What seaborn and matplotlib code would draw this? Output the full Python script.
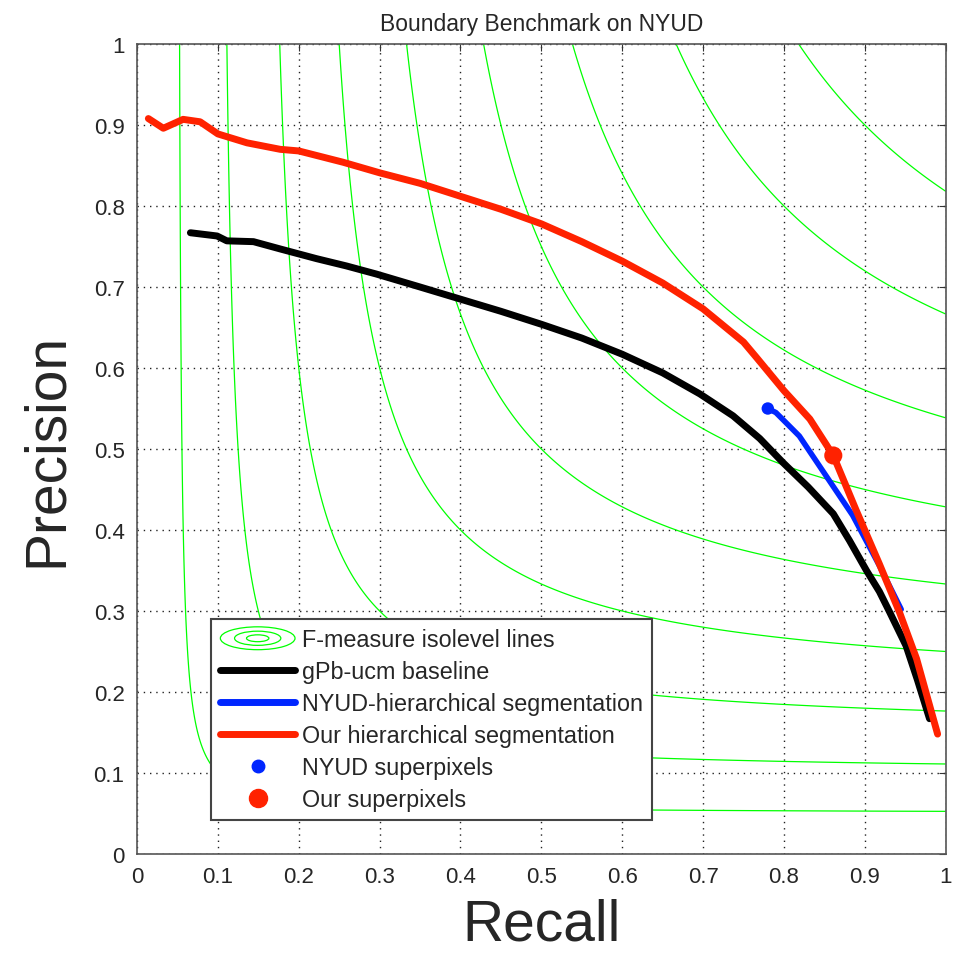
import numpy as np
import pandas as pd
import matplotlib
matplotlib.use("Agg")
import matplotlib.pyplot as plt
import seaborn as sns
from matplotlib.patches import Ellipse
from matplotlib.legend_handler import HandlerBase
from matplotlib.lines import Line2D

# F-measure isolevels
f_levels = [0.1, 0.2, 0.3, 0.4, 0.5, 0.6, 0.7, 0.8, 0.9]

# gPb-ucm baseline (recall, precision)
gpb_recall = [0.066, 0.099, 0.111, 0.144, 0.177, 0.222, 0.259, 0.296, 0.35, 0.40, 0.45,
              0.50, 0.55, 0.60, 0.65, 0.696, 0.737, 0.77, 0.799, 0.83, 0.861, 0.881,
              0.902, 0.918, 0.931, 0.951, 0.965, 0.980]
gpb_precision = [0.767, 0.763, 0.757, 0.756, 0.747, 0.735, 0.726, 0.716, 0.700, 0.685, 0.670,
                 0.654, 0.637, 0.617, 0.594, 0.568, 0.541, 0.513, 0.483, 0.453, 0.420, 0.387,
                 0.350, 0.324, 0.298, 0.257, 0.215, 0.167]

# NYUD hierarchical segmentation
nyud_recall = [0.780, 0.790, 0.819, 0.852, 0.885, 0.918, 0.945]
nyud_precision = [0.550, 0.545, 0.516, 0.467, 0.418, 0.356, 0.302]

# our hierarchical segmentation
our_recall = [0.014, 0.0325, 0.057, 0.078, 0.100, 0.136, 0.177, 0.200, 0.255, 0.300, 0.35,
              0.40, 0.45, 0.50, 0.55, 0.60, 0.65, 0.70, 0.75, 0.766, 0.80, 0.832, 0.861,
              0.889, 0.918, 0.943, 0.964, 0.990]
our_precision = [0.908, 0.896, 0.907, 0.904, 0.889, 0.878, 0.870, 0.868, 0.854, 0.841, 0.828,
                 0.812, 0.796, 0.778, 0.756, 0.732, 0.705, 0.673, 0.632, 0.613, 0.572, 0.537,
                 0.492, 0.425, 0.358, 0.298, 0.241, 0.148]

# superpixel operating points
nyud_sp = (0.780, 0.550)
our_sp = (0.861, 0.492)

sns.set_style("white")
plt.rcParams['font.family'] = ['Liberation Sans', 'DejaVu Sans']

fig = plt.figure(figsize=(9.65, 9.54), dpi=100)
ax = fig.add_axes([0.142, 0.1038, 0.838, 0.849])

# iso-F contours
r = np.linspace(0.01, 1, 400)
p = np.linspace(0.01, 1, 400)
R, P = np.meshgrid(r, p)
F = 2 * P * R / (P + R)
ax.contour(R, P, F, levels=f_levels, colors=[(0, 1, 0)], linewidths=0.9)

red = '#ff2200'
blue = '#0026ff'

sns.lineplot(x=gpb_recall, y=gpb_precision, color='black', lw=5, sort=False, ax=ax)
sns.lineplot(x=nyud_recall, y=nyud_precision, color=blue, lw=4, sort=False, ax=ax)
sns.lineplot(x=our_recall, y=our_precision, color=red, lw=5, sort=False, ax=ax)
sns.scatterplot(x=[nyud_sp[0]], y=[nyud_sp[1]], color=blue, s=80, edgecolor='none', ax=ax, zorder=5)
sns.scatterplot(x=[our_sp[0]], y=[our_sp[1]], color=red, s=170, edgecolor='none', ax=ax, zorder=5)

ax.set_xlim(0, 1)
ax.set_ylim(0, 1)
ticks = np.round(np.arange(0, 1.01, 0.1), 1)
ax.set_xticks(ticks)
ax.set_yticks(ticks)
ax.set_xticklabels(['0'] + [f'{t:g}' for t in ticks[1:]])
ax.set_yticklabels(['0'] + [f'{t:g}' for t in ticks[1:]])
ax.tick_params(direction='in', top=True, right=True, length=5, labelsize=16, pad=9,
               color='#333333')
ax.grid(True, linestyle=(0, (1, 3.5)), color='#222222', linewidth=1)
for s in ax.spines.values():
    s.set_color('#555555')
    s.set_linewidth(1.2)

ax.set_title('Boundary Benchmark on NYUD', fontsize=16.5, pad=10)
ax.set_xlabel('Recall', fontsize=41, va='baseline')
ax.xaxis.set_label_coords(0.5, -0.106)
ax.set_ylabel('Precision', fontsize=41, labelpad=14)


class EllipseHandler(HandlerBase):
    def create_artists(self, legend, orig_handle, xdescent, ydescent, width, height, fontsize, trans):
        cx = width / 2 - xdescent
        cy = height / 2 - ydescent
        arts = []
        for k in (1.0, 0.62, 0.3):
            e = Ellipse((cx, cy), width * k, height * 1.4 * k, fill=False,
                        edgecolor=(0, 1, 0), lw=0.9, transform=trans)
            arts.append(e)
        return arts


iso_handle = Line2D([], [], color=(0, 1, 0))
handles = [
    iso_handle,
    Line2D([], [], color='black', lw=5),
    Line2D([], [], color=blue, lw=5),
    Line2D([], [], color=red, lw=5),
    Line2D([], [], color=blue, marker='o', ms=9, ls='none'),
    Line2D([], [], color=red, marker='o', ms=13, ls='none'),
]
labels = ['F-measure isolevel lines', 'gPb-ucm baseline', 'NYUD-hierarchical segmentation',
          'Our hierarchical segmentation', 'NYUD superpixels', 'Our superpixels']
leg = ax.legend(handles, labels, loc='upper left', bbox_to_anchor=(0.0915, 0.29),
                borderaxespad=0, fontsize=16.8, handlelength=3.2, labelspacing=0.38,
                handletextpad=0.3, borderpad=0.4, fancybox=False, framealpha=1,
                edgecolor='#444444', handler_map={iso_handle: EllipseHandler()})
leg.get_frame().set_linewidth(1.5)

fig.savefig('out.png', dpi=100)
